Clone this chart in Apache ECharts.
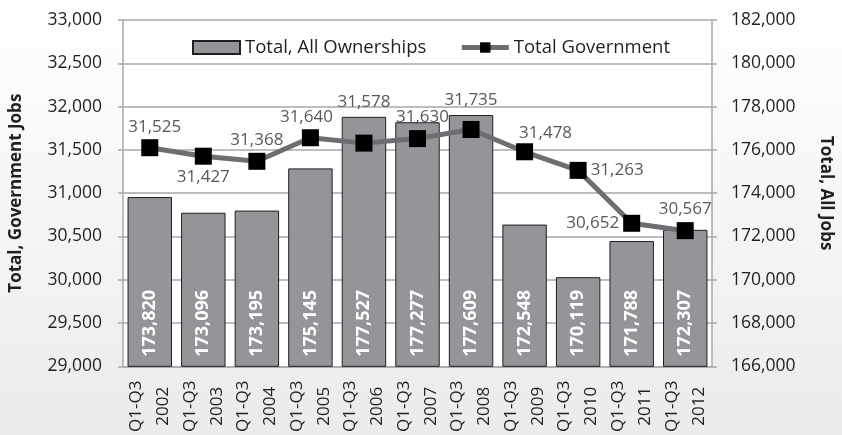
<!DOCTYPE html>
<html>
<head>
<meta charset="utf-8">
<script src="https://cdn.jsdelivr.net/npm/echarts/dist/echarts.min.js"></script>
<style>
  html, body { margin: 0; padding: 0; }
  #chart { width: 842px; height: 435px; }
</style>
</head>
<body>
<div id="chart"></div>
<script>
// data
var categories = ['Q1-Q3\n2002', 'Q1-Q3\n2003', 'Q1-Q3\n2004', 'Q1-Q3\n2005', 'Q1-Q3\n2006', 'Q1-Q3\n2007',
                  'Q1-Q3\n2008', 'Q1-Q3\n2009', 'Q1-Q3\n2010', 'Q1-Q3\n2011', 'Q1-Q3\n2012'];
var allOwnerships = [173820, 173096, 173195, 175145, 177527, 177277, 177609, 172548, 170119, 171788, 172307];
var totalGovernment = [31525, 31427, 31368, 31640, 31578, 31630, 31735, 31478, 31263, 30652, 30567];

// where each line label sits (layout only)
var labelPlace = ['top', 'bottom', 'top', 'top', 'top', 'top', 'top', 'top', 'right', 'left', 'top'];
var labelShift = [[5, 0], [0, 0], [0, 0], [-4, 0], [0, -20], [5, 0], [0, -8], [21, 2], [0, 0], [0, 0], [0, 0]];

var fmt = function (v) { return Number(v).toLocaleString('en-US'); };
var FONT = 'Open Sans';
var gridCol = '#a7a9ac';

var myChart = echarts.init(document.getElementById('chart'));

var option = {
    backgroundColor: {
        type: 'linear', x: 0, y: 0, x2: 0, y2: 1,
        colorStops: [{ offset: 0, color: '#ffffff' }, { offset: 1, color: '#ebebeb' }]
    },
    textStyle: { fontFamily: FONT },
    legend: {
        left: 187,
        top: 33,
        itemGap: 33,
        itemWidth: 47,
        itemHeight: 13,
        textStyle: { fontSize: 18.5, color: '#231f20', fontFamily: FONT },
        data: [
            { name: 'Total, All Ownerships', icon: 'rect' },
            { name: 'Total Government', lineStyle: { width: 5, color: '#6d6e71' } }
        ]
    },
    grid: {
        left: 123,
        right: 129,
        top: 20,
        bottom: 68,
        show: true,
        backgroundColor: '#ffffff',
        borderWidth: 0
    },
    xAxis: {
        type: 'category',
        data: categories,
        axisLine: { lineStyle: { color: gridCol, width: 1.5 } },
        axisTick: { length: 5, lineStyle: { color: gridCol, width: 1.5 } },
        axisLabel: {
            interval: 0,
            rotate: 90,
            align: 'center',
            verticalAlign: 'middle',
            margin: 40,
            fontSize: 17,
            lineHeight: 27,
            color: '#231f20'
        }
    },
    yAxis: [
        {
            type: 'value',
            min: 29000,
            max: 33000,
            interval: 500,
            name: 'Total, Government Jobs',
            nameLocation: 'middle',
            nameGap: 98,
            nameTextStyle: { fontSize: 17, fontWeight: 'bold', color: '#231f20' },
            axisLine: { show: true, lineStyle: { color: gridCol, width: 1.5 } },
            axisTick: { show: true, length: 5, lineStyle: { color: gridCol, width: 1.5 } },
            axisLabel: { margin: 21, fontSize: 17.5, color: '#231f20', formatter: fmt },
            splitLine: { lineStyle: { color: gridCol, width: 1.5 } }
        },
        {
            type: 'value',
            min: 166000,
            max: 182000,
            interval: 2000,
            position: 'right',
            name: 'Total, All Jobs',
            nameLocation: 'middle',
            nameRotate: -90,
            nameGap: 105,
            nameTextStyle: { fontSize: 17, fontWeight: 'bold', color: '#231f20' },
            axisLine: { show: true, lineStyle: { color: gridCol, width: 1.5 } },
            axisTick: { show: true, length: 5, lineStyle: { color: gridCol, width: 1.5 } },
            axisLabel: { margin: 19, fontSize: 17.5, color: '#231f20', formatter: fmt },
            splitLine: { show: false }
        }
    ],
    series: [
        {
            name: 'Total, All Ownerships',
            type: 'bar',
            yAxisIndex: 1,
            barCategoryGap: '17%',
            data: allOwnerships,
            itemStyle: { color: '#939598', borderColor: '#231f20', borderWidth: 1 },
            label: {
                show: true,
                position: 'insideBottom',
                rotate: 90,
                align: 'left',
                verticalAlign: 'middle',
                distance: 10,
                color: '#ffffff',
                fontSize: 18,
                fontWeight: 'bold',
                formatter: function (p) { return fmt(p.value); }
            }
        },
        {
            name: 'Total Government',
            type: 'line',
            yAxisIndex: 0,
            symbol: 'rect',
            symbolSize: 17,
            lineStyle: { color: '#6d6e71', width: 5 },
            itemStyle: { color: '#000000' },
            data: totalGovernment.map(function (v, i) {
                return {
                    value: v,
                    label: { position: labelPlace[i], offset: labelShift[i] }
                };
            }),
            label: {
                show: true,
                distance: 4,
                fontSize: 17,
                color: '#58595b',
                formatter: function (p) { return fmt(p.value); }
            }
        }
    ]
};

myChart.setOption(option);
</script>
</body>
</html>
